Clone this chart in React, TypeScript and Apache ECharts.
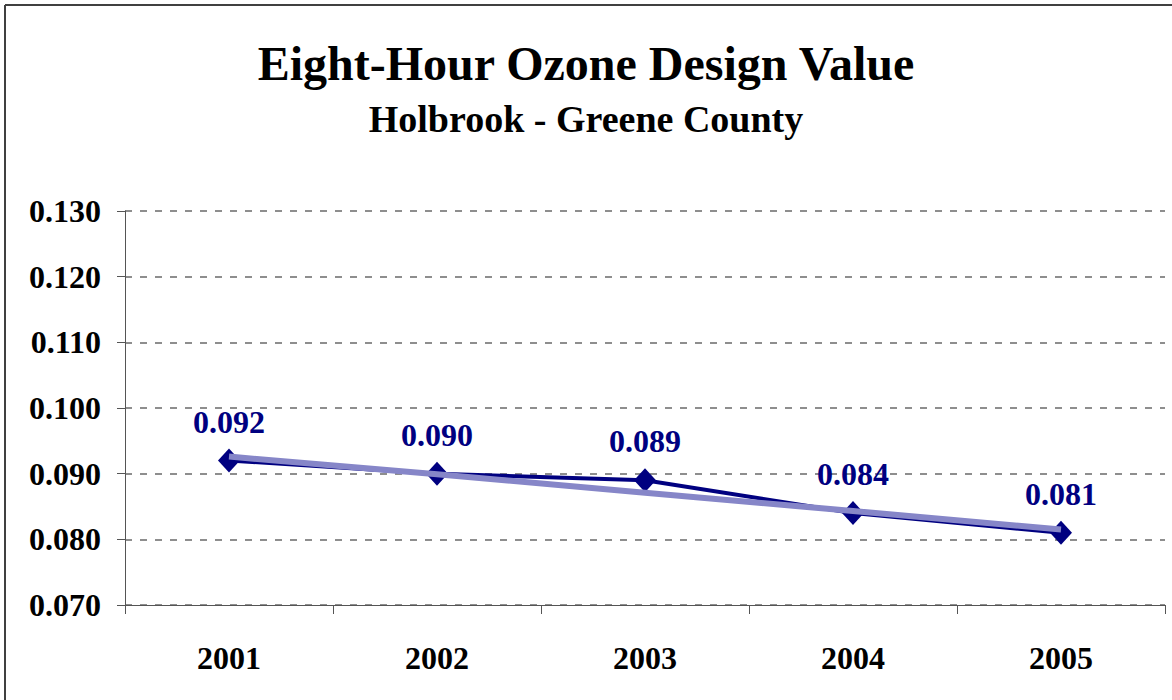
import React, { useEffect, useRef } from "react";
import * as echarts from "echarts";

const years = ["2001", "2002", "2003", "2004", "2005"];
const designValues = [0.092, 0.09, 0.089, 0.084, 0.081];
const trendValues = [0.0926, 0.0899, 0.0871, 0.0843, 0.0815];
const titleText = "Eight-Hour Ozone Design Value";
const subtitleText = "Holbrook - Greene County";

const FONT = "'Liberation Serif', 'Times New Roman', serif";

export default function App() {
  const ref = useRef<HTMLDivElement>(null);
  useEffect(() => {
    if (!ref.current) return;
    const chart = echarts.init(ref.current, undefined, { renderer: "svg" });
    chart.setOption({
      animation: false,
      backgroundColor: "#ffffff",
      title: [
        {
          text: titleText,
          left: "center",
          top: 34,
          textStyle: { fontFamily: FONT, fontWeight: "bold", fontSize: 48, color: "#000" },
        },
        {
          text: subtitleText,
          left: "center",
          top: 95,
          textStyle: { fontFamily: FONT, fontWeight: "bold", fontSize: 38, color: "#000" },
        },
      ],
      graphic: [
        {
          type: "line",
          shape: { x1: 5, y1: 5, x2: 1172, y2: 5 },
          style: { stroke: "#404040", lineWidth: 2 },
          silent: true,
        },
        {
          type: "line",
          shape: { x1: 5, y1: 5, x2: 5, y2: 700 },
          style: { stroke: "#404040", lineWidth: 2 },
          silent: true,
        },
      ],
      grid: { left: 125, right: 7, top: 211, bottom: 95, containLabel: false },
      xAxis: {
        type: "category",
        data: years,
        boundaryGap: true,
        axisLine: { show: true, lineStyle: { color: "#555", width: 1 } },
        axisTick: { show: true, length: 9, lineStyle: { color: "#555" } },
        axisLabel: {
          margin: 37,
          fontFamily: FONT,
          fontWeight: "bold",
          fontSize: 32,
          color: "#000",
        },
        splitLine: { show: false },
      },
      yAxis: {
        type: "value",
        min: 0.07,
        max: 0.13,
        interval: 0.01,
        axisLine: { show: true, lineStyle: { color: "#555", width: 1 } },
        axisTick: { show: true, length: 8, lineStyle: { color: "#555" } },
        axisLabel: {
          margin: 24,
          fontFamily: FONT,
          fontWeight: "bold",
          fontSize: 32,
          color: "#000",
          formatter: (v: number) => v.toFixed(3),
        },
        splitLine: {
          show: true,
          lineStyle: { color: "#6a6a6a", type: [7, 8], width: 1.5 },
        },
      },
      series: [
        {
          type: "line",
          data: designValues,
          symbol: "diamond",
          symbolSize: [22, 24],
          lineStyle: { color: "#000080", width: 4 },
          itemStyle: { color: "#000080" },
          label: {
            show: true,
            position: "top",
            distance: 11,
            fontFamily: FONT,
            fontWeight: "bold",
            fontSize: 32,
            color: "#000080",
            formatter: (p: any) => Number(p.value).toFixed(3),
          },
          z: 2,
        },
        {
          type: "line",
          data: trendValues,
          symbol: "none",
          lineStyle: { color: "#8686C8", width: 6 },
          z: 3,
        },
      ],
    });
    return () => chart.dispose();
  }, []);
  return (
    <div
      ref={ref}
      style={{ position: "absolute", left: 0, top: 0, width: 1172, height: 700 }}
    />
  );
}
